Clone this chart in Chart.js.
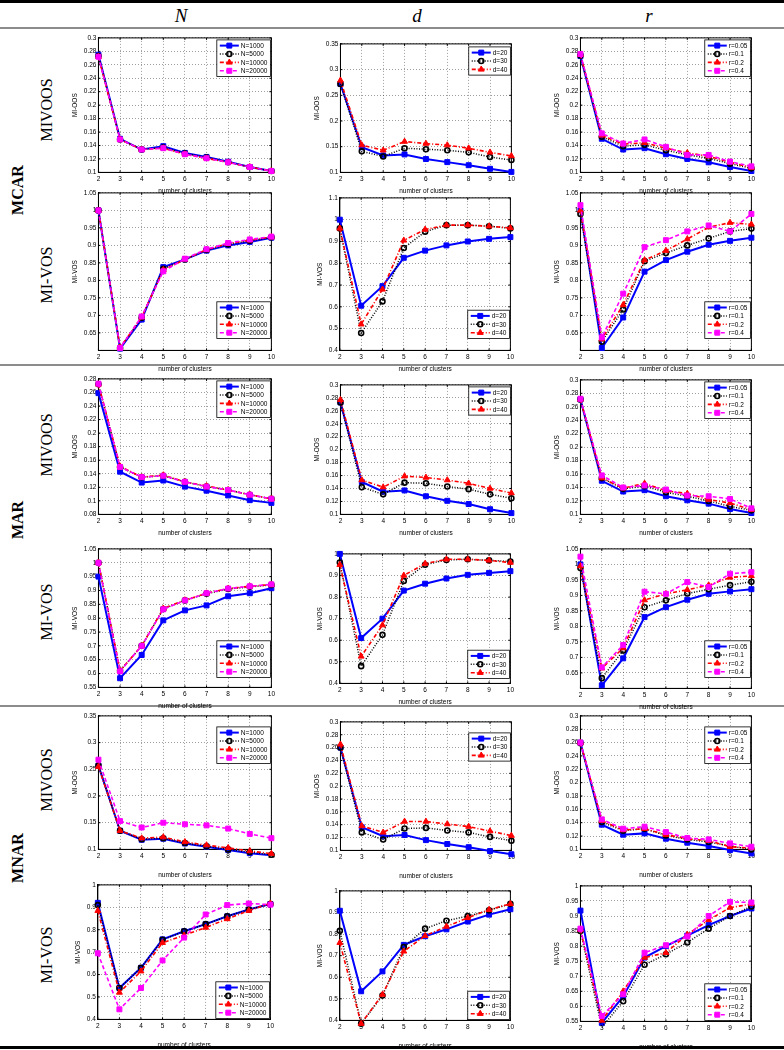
<!DOCTYPE html>
<html>
<head>
<meta charset="utf-8">
<script src="https://cdn.jsdelivr.net/npm/chart.js@4/dist/chart.umd.min.js"></script>
<style>
  html, body { margin: 0; padding: 0; background: #fff; }
  body { position: relative; width: 784px; height: 1050px; overflow: hidden; font-family: "Liberation Serif", "DejaVu Serif", serif; }
  .rule { position: absolute; left: 0; width: 784px; }
  .rot { position: absolute; transform: translate(-50%, -50%) rotate(-90deg); white-space: nowrap; color: #000; }
  .grp { font-weight: bold; font-size: 16px; }
  .met { font-size: 16px; }
  .head { position: absolute; transform: translate(-50%, -50%); font-style: italic; font-size: 19px; }
  canvas { position: absolute; }
</style>
</head>
<body>
<div class="rule" style="top:0;height:3px;background:#000"></div>
<div class="rule" style="top:27px;height:2px;background:#8c8c8c"></div>
<div class="rule" style="top:364px;height:2px;background:#8c8c8c"></div>
<div class="rule" style="top:705px;height:2px;background:#8c8c8c"></div>
<div class="rule" style="top:1046px;height:3px;background:#000"></div>

<div class="head" style="left:181px;top:16px">N</div>
<div class="head" style="left:417px;top:16px">d</div>
<div class="head" style="left:649px;top:16px">r</div>

<div class="rot grp" style="left:18px;top:190px">MCAR</div>
<div class="rot grp" style="left:18px;top:520px">MAR</div>
<div class="rot grp" style="left:18px;top:858px">MNAR</div>
<div class="rot met" style="left:47px;top:110px">MIVOOS</div>
<div class="rot met" style="left:47px;top:275px">MI-VOS</div>
<div class="rot met" style="left:47px;top:445px">MIVOOS</div>
<div class="rot met" style="left:47px;top:612px">MI-VOS</div>
<div class="rot met" style="left:47px;top:780px">MIVOOS</div>
<div class="rot met" style="left:47px;top:955px">MI-VOS</div>

<script>
const clusters = [2, 3, 4, 5, 6, 7, 8, 9, 10];
const nLabels = ['N=1000', 'N=5000', 'N=10000', 'N=20000'];
const dLabels = ['d=20', 'd=30', 'd=40'];
const rLabels = ['r=0.05', 'r=0.1', 'r=0.2', 'r=0.4'];

// y tick sets
const oosTicks02 = [0.1, 0.12, 0.14, 0.16, 0.18, 0.2, 0.22, 0.24, 0.26, 0.28, 0.3];
const oosTicks05 = [0.1, 0.15, 0.2, 0.25, 0.3, 0.35];
const oosTicksLow = [0.08, 0.1, 0.12, 0.14, 0.16, 0.18, 0.2, 0.22, 0.24, 0.26, 0.28];
const vosTicksHigh = [0.65, 0.7, 0.75, 0.8, 0.85, 0.9, 0.95, 1, 1.05];
const vosTicksWide = [0.4, 0.5, 0.6, 0.7, 0.8, 0.9, 1, 1.1];
const vosTicksTen = [0.4, 0.5, 0.6, 0.7, 0.8, 0.9, 1];
const vosTicksMid = [0.55, 0.6, 0.65, 0.7, 0.75, 0.8, 0.85, 0.9, 0.95, 1, 1.05];
const vosTicksMidTen = [0.55, 0.6, 0.65, 0.7, 0.75, 0.8, 0.85, 0.9, 0.95, 1];

// MCAR
const mcarOosN = [
  [0.275, 0.150, 0.134, 0.139, 0.129, 0.123, 0.116, 0.108, 0.102],
  [0.273, 0.149, 0.134, 0.137, 0.128, 0.122, 0.115, 0.108, 0.102],
  [0.272, 0.149, 0.134, 0.136, 0.127, 0.121, 0.115, 0.108, 0.102],
  [0.272, 0.149, 0.134, 0.136, 0.127, 0.121, 0.115, 0.108, 0.102]
];
const mcarVosN = [
  [1.0, 0.605, 0.688, 0.838, 0.860, 0.885, 0.900, 0.910, 0.922],
  [1.0, 0.607, 0.693, 0.833, 0.860, 0.887, 0.903, 0.913, 0.923],
  [1.0, 0.608, 0.695, 0.830, 0.860, 0.888, 0.905, 0.915, 0.924],
  [1.0, 0.607, 0.697, 0.826, 0.862, 0.889, 0.907, 0.917, 0.925]
];
const mcarOosD = [
  [0.272, 0.149, 0.133, 0.135, 0.126, 0.120, 0.114, 0.107, 0.101],
  [0.272, 0.141, 0.131, 0.147, 0.145, 0.143, 0.139, 0.130, 0.124],
  [0.279, 0.153, 0.143, 0.160, 0.156, 0.153, 0.147, 0.139, 0.132]
];
const mcarVosD = [
  [1.0, 0.605, 0.695, 0.825, 0.858, 0.882, 0.900, 0.912, 0.920],
  [0.960, 0.480, 0.625, 0.870, 0.945, 0.975, 0.975, 0.970, 0.960],
  [0.960, 0.520, 0.680, 0.905, 0.955, 0.975, 0.975, 0.970, 0.962]
];
const mcarOosR = [
  [0.273, 0.150, 0.134, 0.136, 0.127, 0.120, 0.115, 0.108, 0.102],
  [0.274, 0.153, 0.139, 0.141, 0.133, 0.126, 0.121, 0.113, 0.106],
  [0.275, 0.155, 0.142, 0.144, 0.136, 0.129, 0.124, 0.115, 0.107],
  [0.276, 0.158, 0.143, 0.149, 0.138, 0.126, 0.126, 0.116, 0.109]
];
const mcarVosR = [
  [1.0, 0.607, 0.694, 0.825, 0.858, 0.882, 0.902, 0.913, 0.922],
  [0.990, 0.625, 0.717, 0.855, 0.878, 0.900, 0.920, 0.940, 0.948],
  [1.0, 0.632, 0.730, 0.858, 0.885, 0.918, 0.952, 0.965, 0.960],
  [1.015, 0.637, 0.762, 0.895, 0.915, 0.940, 0.957, 0.940, 0.990]
];

// MAR
const marOosN = [
  [0.259, 0.143, 0.127, 0.130, 0.121, 0.115, 0.108, 0.101, 0.097],
  [0.272, 0.150, 0.135, 0.137, 0.128, 0.121, 0.116, 0.109, 0.103],
  [0.272, 0.151, 0.135, 0.138, 0.128, 0.122, 0.116, 0.109, 0.103],
  [0.273, 0.150, 0.135, 0.137, 0.128, 0.121, 0.116, 0.109, 0.103]
];
const marVosN = [
  [0.950, 0.583, 0.667, 0.792, 0.828, 0.846, 0.879, 0.890, 0.908],
  [1.0, 0.610, 0.700, 0.833, 0.864, 0.888, 0.905, 0.913, 0.920],
  [1.0, 0.610, 0.700, 0.835, 0.865, 0.890, 0.907, 0.915, 0.921],
  [1.0, 0.608, 0.700, 0.832, 0.864, 0.890, 0.907, 0.915, 0.922]
];
const marOosD = [
  [0.273, 0.150, 0.135, 0.137, 0.128, 0.121, 0.116, 0.108, 0.102],
  [0.273, 0.142, 0.131, 0.149, 0.148, 0.143, 0.139, 0.131, 0.125],
  [0.277, 0.153, 0.142, 0.159, 0.157, 0.153, 0.148, 0.140, 0.133]
];
const marVosD = [
  [1.0, 0.610, 0.700, 0.830, 0.862, 0.886, 0.903, 0.912, 0.920],
  [0.960, 0.480, 0.625, 0.875, 0.950, 0.972, 0.975, 0.970, 0.965],
  [0.950, 0.525, 0.670, 0.900, 0.955, 0.975, 0.975, 0.970, 0.960]
];
const marOosR = [
  [0.271, 0.150, 0.134, 0.136, 0.127, 0.121, 0.116, 0.108, 0.102],
  [0.271, 0.154, 0.138, 0.142, 0.133, 0.127, 0.120, 0.112, 0.106],
  [0.271, 0.154, 0.139, 0.146, 0.135, 0.131, 0.122, 0.117, 0.107],
  [0.272, 0.158, 0.140, 0.143, 0.137, 0.128, 0.127, 0.123, 0.109]
];
const marVosR = [
  [1.0, 0.610, 0.697, 0.830, 0.862, 0.886, 0.905, 0.913, 0.920],
  [0.988, 0.633, 0.722, 0.862, 0.884, 0.906, 0.920, 0.933, 0.944],
  [0.995, 0.665, 0.730, 0.885, 0.905, 0.918, 0.933, 0.958, 0.963],
  [1.025, 0.668, 0.740, 0.912, 0.905, 0.943, 0.927, 0.970, 0.975]
];

// MNAR
const mnarOosN = [
  [0.257, 0.135, 0.118, 0.120, 0.111, 0.105, 0.099, 0.093, 0.089],
  [0.257, 0.135, 0.119, 0.121, 0.112, 0.106, 0.100, 0.095, 0.090],
  [0.255, 0.135, 0.121, 0.123, 0.114, 0.108, 0.103, 0.097, 0.092],
  [0.268, 0.153, 0.141, 0.150, 0.147, 0.145, 0.139, 0.129, 0.121]
];
const mnarVosN = [
  [0.920, 0.540, 0.630, 0.757, 0.793, 0.825, 0.860, 0.890, 0.915],
  [0.910, 0.540, 0.630, 0.755, 0.793, 0.825, 0.860, 0.890, 0.915],
  [0.885, 0.520, 0.615, 0.742, 0.775, 0.810, 0.848, 0.885, 0.918],
  [0.695, 0.445, 0.540, 0.663, 0.765, 0.868, 0.910, 0.917, 0.912]
];
const mnarOosD = [
  [0.260, 0.136, 0.122, 0.124, 0.116, 0.110, 0.105, 0.099, 0.094],
  [0.260, 0.128, 0.117, 0.134, 0.135, 0.131, 0.128, 0.121, 0.115],
  [0.265, 0.138, 0.128, 0.145, 0.145, 0.141, 0.137, 0.130, 0.123]
];
const mnarVosD = [
  [0.908, 0.535, 0.627, 0.750, 0.790, 0.822, 0.858, 0.890, 0.915],
  [0.815, 0.385, 0.515, 0.740, 0.825, 0.862, 0.883, 0.910, 0.940],
  [0.760, 0.385, 0.520, 0.720, 0.792, 0.835, 0.875, 0.913, 0.940]
];
const mnarOosR = [
  [0.260, 0.137, 0.122, 0.124, 0.116, 0.110, 0.105, 0.099, 0.094],
  [0.259, 0.141, 0.128, 0.131, 0.121, 0.115, 0.111, 0.105, 0.100],
  [0.260, 0.143, 0.129, 0.131, 0.122, 0.116, 0.113, 0.104, 0.102],
  [0.260, 0.145, 0.131, 0.134, 0.126, 0.117, 0.115, 0.109, 0.104]
];
const mnarVosR = [
  [0.918, 0.545, 0.633, 0.762, 0.800, 0.835, 0.870, 0.900, 0.925],
  [0.850, 0.530, 0.617, 0.738, 0.773, 0.812, 0.858, 0.900, 0.932],
  [0.855, 0.553, 0.650, 0.762, 0.778, 0.838, 0.887, 0.928, 0.940],
  [0.858, 0.568, 0.640, 0.778, 0.803, 0.832, 0.900, 0.947, 0.945]
];

// line look of the 1st..4th series (matlab style)
const seriesStyles = [
  { color: '#0000ff', dash: [], width: 2, point: 'rect', radius: 3.5, fill: '#0000ff', pw: 1 },
  { color: '#000000', dash: [1, 1.6], width: 1.5, point: 'circle', radius: 2.5, fill: 'rgba(255,255,255,0)', pw: 1.6 },
  { color: '#ff0000', dash: [4, 2, 1, 2], width: 1.6, point: 'triangle', radius: 3.4, fill: '#ff0000', pw: 1 },
  { color: '#ff00ff', dash: [4, 2.5], width: 1.6, point: 'rect', radius: 3.5, fill: '#ff00ff', pw: 1 }
];

const panels = [
  { data: mcarOosN, names: nLabels, ticks: oosTicks02, min: 0.1, max: 0.3, yTitle: 'MI-OOS', box: [98, 38, 271, 172], corner: 'ne', my: 2 },
  { data: mcarVosN, names: nLabels, ticks: vosTicksHigh, min: 0.6, max: 1.05, yTitle: 'MI-VOS', box: [98, 193, 271, 350], corner: 'se', my: 12 },
  { data: mcarOosD, names: dLabels, ticks: oosTicks05, min: 0.1, max: 0.35, yTitle: 'MI-OOS', box: [340, 44, 511, 172], corner: 'ne', my: 3 },
  { data: mcarVosD, names: dLabels, ticks: vosTicksWide, min: 0.4, max: 1.1, yTitle: 'MI-VOS', box: [340, 198, 511, 350], corner: 'se', my: 12 },
  { data: mcarOosR, names: rLabels, ticks: oosTicks02, min: 0.1, max: 0.3, yTitle: 'MI-OOS', box: [580, 38, 751, 172], corner: 'ne', my: 2 },
  { data: mcarVosR, names: rLabels, ticks: vosTicksHigh, min: 0.6, max: 1.05, yTitle: 'MI-VOS', box: [580, 193, 751, 350], corner: 'se', my: 12 },

  { data: marOosN, names: nLabels, ticks: oosTicksLow, min: 0.08, max: 0.28, yTitle: 'MI-OOS', box: [98, 379, 271, 514], corner: 'ne', my: 2 },
  { data: marVosN, names: nLabels, ticks: vosTicksMid, min: 0.55, max: 1.05, yTitle: 'MI-VOS', box: [98, 549, 271, 687], corner: 'se', my: 10 },
  { data: marOosD, names: dLabels, ticks: oosTicks02, min: 0.1, max: 0.3, yTitle: 'MI-OOS', box: [340, 385, 511, 514], corner: 'ne', my: 2 },
  { data: marVosD, names: dLabels, ticks: vosTicksTen, min: 0.4, max: 1.0, yTitle: 'MI-VOS', box: [340, 554, 511, 683], corner: 'se', my: 5 },
  { data: marOosR, names: rLabels, ticks: oosTicks02, min: 0.1, max: 0.3, yTitle: 'MI-OOS', box: [580, 380, 751, 514], corner: 'ne', my: 2 },
  { data: marVosR, names: rLabels, ticks: vosTicksHigh, min: 0.6, max: 1.05, yTitle: 'MI-VOS', box: [580, 549, 751, 688], corner: 'se', my: 11 },

  { data: mnarOosN, names: nLabels, ticks: oosTicks05, min: 0.1, max: 0.35, yTitle: 'MI-OOS', box: [98, 716, 271, 849], corner: 'ne', my: 11, gap: 8 },
  { data: mnarVosN, names: nLabels, ticks: vosTicksTen, min: 0.4, max: 1.0, yTitle: 'MI-VOS', box: [98, 885, 271, 1019], corner: 'se', my: 1, gap: 8 },
  { data: mnarOosD, names: dLabels, ticks: oosTicks02, min: 0.1, max: 0.3, yTitle: 'MI-OOS', box: [340, 722, 511, 850], corner: 'ne', my: 11, gap: 8 },
  { data: mnarVosD, names: dLabels, ticks: vosTicksTen, min: 0.4, max: 1.0, yTitle: 'MI-VOS', box: [340, 891, 511, 1020], corner: 'se', my: 1, gap: 8 },
  { data: mnarOosR, names: rLabels, ticks: oosTicks02, min: 0.1, max: 0.3, yTitle: 'MI-OOS', box: [580, 716, 751, 849], corner: 'ne', my: 11, gap: 8 },
  { data: mnarVosR, names: rLabels, ticks: vosTicksMidTen, min: 0.55, max: 1.0, yTitle: 'MI-VOS', box: [580, 886, 751, 1021], corner: 'se', my: 1, gap: 8 }
];

const smallFont = { family: '"Liberation Sans", Arial, sans-serif', size: 6.5 };

const drawMarker = (ctx, style, x, y, r) => {
  ctx.beginPath();
  if (style === 'rect') {
    const s = r * Math.SQRT1_2;
    ctx.rect(x - s, y - s, 2 * s, 2 * s);
  } else if (style === 'triangle') {
    ctx.moveTo(x, y - r);
    ctx.lineTo(x + r * 0.866, y + r * 0.5);
    ctx.lineTo(x - r * 0.866, y + r * 0.5);
    ctx.closePath();
  } else {
    ctx.arc(x, y, r, 0, Math.PI * 2);
  }
  ctx.fill();
  ctx.stroke();
};

// axes box with inward ticks, like matlab
const plotBox = {
  id: 'plotBox',
  beforeDatasetsDraw(chart) {
    const { ctx, chartArea: ca } = chart;
    ctx.save();
    ctx.strokeStyle = '#000';
    ctx.lineWidth = 1;
    ctx.strokeRect(ca.left, ca.top, ca.right - ca.left, ca.bottom - ca.top);
    ctx.beginPath();
    const xs = chart.scales.x, ys = chart.scales.y;
    xs.ticks.forEach((t, i) => {
      const px = xs.getPixelForTick(i);
      ctx.moveTo(px, ca.bottom); ctx.lineTo(px, ca.bottom - 2);
      ctx.moveTo(px, ca.top); ctx.lineTo(px, ca.top + 2);
    });
    ys.ticks.forEach((t, i) => {
      const py = ys.getPixelForTick(i);
      ctx.moveTo(ca.left, py); ctx.lineTo(ca.left + 2, py);
      ctx.moveTo(ca.right, py); ctx.lineTo(ca.right - 2, py);
    });
    ctx.stroke();
    ctx.restore();
  }
};

// legend box inside the axes
const boxLegend = {
  id: 'boxLegend',
  afterDatasetsDraw(chart, args, opts) {
    const { ctx, chartArea: ca } = chart;
    const sets = chart.data.datasets;
    ctx.save();
    ctx.font = '6.5px "Liberation Sans", Arial, sans-serif';
    const textW = Math.max(...sets.map((s) => ctx.measureText(s.label).width));
    const rowH = 8.4;
    const w = textW + 27;
    const h = sets.length * rowH + 3;
    const x0 = ca.right - w - 1;
    const y0 = opts.corner === 'ne' ? ca.top + opts.my : ca.bottom - h - opts.my;
    ctx.fillStyle = '#fff';
    ctx.fillRect(x0, y0, w, h);
    ctx.strokeStyle = '#000';
    ctx.lineWidth = 0.8;
    ctx.setLineDash([]);
    ctx.strokeRect(x0, y0, w, h);
    sets.forEach((s, i) => {
      const y = y0 + 1.5 + rowH * (i + 0.5);
      ctx.beginPath();
      ctx.setLineDash(s.borderDash);
      ctx.strokeStyle = s.borderColor;
      ctx.lineWidth = s.borderWidth;
      ctx.moveTo(x0 + 3, y);
      ctx.lineTo(x0 + 22, y);
      ctx.stroke();
      ctx.setLineDash([]);
      ctx.fillStyle = s.pointBackgroundColor;
      ctx.strokeStyle = s.pointBorderColor;
      ctx.lineWidth = s.pointBorderWidth;
      drawMarker(ctx, s.pointStyle, x0 + 12.5, y, s.pointRadius);
      ctx.fillStyle = '#000';
      ctx.textBaseline = 'middle';
      ctx.fillText(s.label, x0 + 24, y + 0.5);
    });
    ctx.restore();
  }
};

const makeChart = (p, w, h) => {
  const canvas = document.createElement('canvas');
  canvas.width = w;
  canvas.height = h;
  document.body.appendChild(canvas);

  const datasets = p.data.map((values, i) => {
    const st = seriesStyles[i];
    return {
      label: p.names[i],
      data: values,
      borderColor: st.color,
      borderWidth: st.width,
      borderDash: st.dash,
      pointStyle: st.point,
      pointRadius: st.radius,
      pointBackgroundColor: st.fill,
      pointBorderColor: st.color,
      pointBorderWidth: st.pw,
      tension: 0,
      fill: false,
      clip: false,
      order: p.data.length - i
    };
  });

  return new Chart(canvas, {
    type: 'line',
    data: { labels: clusters, datasets: datasets },
    options: {
      responsive: false,
      maintainAspectRatio: false,
      animation: false,
      events: [],
      layout: { padding: { top: 5, right: 6, left: 1, bottom: 0 } },
      plugins: {
        legend: { display: false },
        tooltip: { enabled: false },
        boxLegend: { corner: p.corner, my: p.my }
      },
      scales: {
        x: {
          type: 'category',
          offset: false,
          grid: { color: 'rgba(0,0,0,0.55)', lineWidth: 0.7, drawTicks: false },
          border: { color: '#000', dash: [1, 2] },
          ticks: { font: smallFont, color: '#000', padding: 3, maxRotation: 0, autoSkip: false },
          title: { display: true, text: 'number of clusters', font: smallFont, color: '#000', padding: { top: p.gap || 1, bottom: 0 } }
        },
        y: {
          min: p.min,
          max: p.max,
          afterBuildTicks: (scale) => {
            scale.ticks = p.ticks.map((v) => ({ value: v }));
          },
          grid: { color: 'rgba(0,0,0,0.55)', lineWidth: 0.7, drawTicks: false },
          border: { color: '#000', dash: [1, 2] },
          ticks: {
            font: smallFont,
            color: '#000',
            padding: 2,
            callback: (v) => String(Math.round(v * 100) / 100)
          },
          title: { display: true, text: p.yTitle, font: smallFont, color: '#000', padding: { top: 0, bottom: 3 } }
        }
      }
    },
    plugins: [plotBox, boxLegend]
  });
};

const drawPanel = (p) => {
  const [l, t, r, b] = p.box;
  let w = r - l + 40;
  let h = b - t + 40;
  let chart = makeChart(p, w, h);
  let ca = chart.chartArea;
  w += (r - l) - (ca.right - ca.left);
  h += (b - t) - (ca.bottom - ca.top);
  const old = chart.canvas;
  chart.destroy();
  old.remove();

  chart = makeChart(p, Math.round(w), Math.round(h));
  ca = chart.chartArea;
  chart.canvas.style.left = (l - ca.left) + 'px';
  chart.canvas.style.top = (t - ca.top) + 'px';
};

panels.forEach(drawPanel);
</script>
</body>
</html>
